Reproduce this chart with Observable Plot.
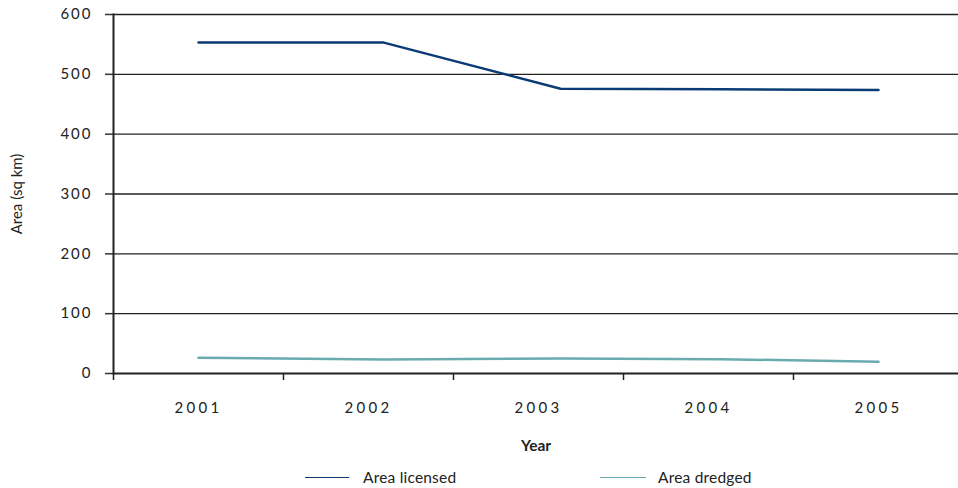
<!DOCTYPE html>
<html><head><meta charset="utf-8">
<script src="https://cdn.jsdelivr.net/npm/d3@7"></script>
<script src="https://cdn.jsdelivr.net/npm/@observablehq/plot@0.6"></script>
<style>
body{margin:0;background:#fff;font-family:Lato,"Open Sans",sans-serif;color:#222;}
#wrap{position:relative;width:958px;height:488px;overflow:hidden;}
#legend{position:absolute;left:0;top:460px;width:958px;height:28px;font-size:15.5px;letter-spacing:0.2px;}
.key{position:absolute;top:17px;height:0;border-top:1.5px solid;}
.lab{position:absolute;top:8px;white-space:nowrap;}
</style></head><body>
<div id="wrap"><div id="chart"></div><div id="legend"></div></div>
<script>
const years = [2001, 2002, 2003, 2004, 2005];
// positions of the plotted points along the year axis
const pointYears = [2001.0, 2002.09, 2003.13, 2004.07, 2005.0];
const licensed = [553, 553, 476, 475, 474];
const dredged = [26.5, 23.5, 25, 24, 19.5];
const yTicks = [0, 100, 200, 300, 400, 500, 600];
const seriesNames = ["Area licensed", "Area dredged"];
const colors = ["#0b3b74", "#6aabb0"];

const rows = [];
years.forEach((yr, i) => {
  rows.push({year: yr, pos: pointYears[i], value: licensed[i], series: seriesNames[0]});
  rows.push({year: yr, pos: pointYears[i], value: dredged[i], series: seriesNames[1]});
});
const boundaries = years.map(y => y - 0.5).concat([years[years.length - 1] + 0.5]);

const chart = Plot.plot({
  width: 958,
  height: 460,
  marginTop: 14,
  marginLeft: 113,
  marginRight: 0,
  marginBottom: 87,
  style: {fontFamily: "Lato, 'Open Sans', sans-serif", color: "#222", background: "#fff"},
  x: {type: "linear", domain: [2000.5, 2005.5], range: [113, 963]},
  y: {domain: [0, 600]},
  color: {domain: seriesNames, range: colors},
  marks: [
    Plot.ruleY(yTicks.filter(d => d > 0), {stroke: "#222", strokeWidth: 1.3}),
    Plot.axisY(yTicks, {tickSize: 8, tickPadding: 13, fontSize: 15, stroke: "#333", strokeWidth: 1.5, label: null, fill: "#222"}),
    Plot.axisX(boundaries, {tickSize: 7, tickFormat: () => "", stroke: "#222", strokeWidth: 1.5, label: null}),
    Plot.axisX(years, {tickSize: 0, tickPadding: 29, fontSize: 15, tickFormat: d => String(d), label: null, fill: "#222"}),
    Plot.line(rows, {x: "pos", y: "value", stroke: "series", z: "series", strokeWidth: 2.5}),
    Plot.ruleY([0], {stroke: "#222", strokeWidth: 2}),
    Plot.frame({anchor: "left", stroke: "#222", strokeWidth: 2}),
    Plot.text(["Year"], {frameAnchor: "bottom", dy: 77, fontWeight: "bold", fontSize: 15.5, fill: "#222"}),
    Plot.text(["Area (sq km)"], {frameAnchor: "left", dx: -96, rotate: -90, textAnchor: "middle", lineAnchor: "middle", fontSize: 15, fill: "#222"})
  ]
});
d3.select(chart).selectAll('g[aria-label="x-axis tick label"] text')
  .style("letter-spacing", "3.3px");
d3.select(chart).selectAll('g[aria-label="y-axis tick label"] text').style("letter-spacing", "2px");
document.getElementById("chart").appendChild(chart);

const legend = d3.select("#legend");
const keyPos = [[305, 44, 363], [600, 46, 658]];
seriesNames.forEach((name, i) => {
  legend.append("div").attr("class", "key")
    .style("left", keyPos[i][0] + "px").style("width", keyPos[i][1] + "px")
    .style("border-color", colors[i]);
  legend.append("div").attr("class", "lab")
    .style("left", keyPos[i][2] + "px").text(name);
});
</script>
</body></html>
